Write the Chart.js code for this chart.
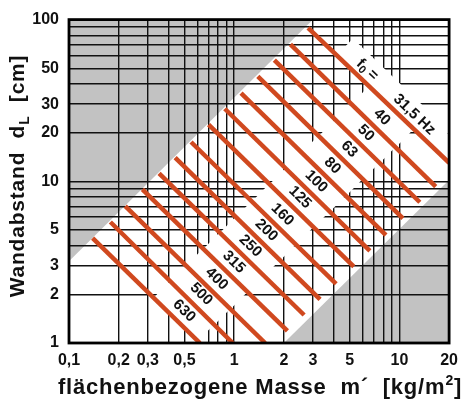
<!DOCTYPE html>
<html>
<head>
<meta charset="utf-8">
<script src="https://cdn.jsdelivr.net/npm/chart.js@4.4.1/dist/chart.umd.min.js"></script>
<style>
  html, body { margin: 0; padding: 0; background: #fff; }
  canvas { display: block; }
</style>
</head>
<body>
<canvas id="chart" width="466" height="400"></canvas>
<script>
// resonance lines f0 (m' in kg/m2, d in cm)
const freqLabels = ["630", "500", "400", "315", "250", "200", "160", "125", "100", "80", "63", "50", "40", "31,5 Hz"];
const lineStartM = [0.139, 0.178, 0.219, 0.278, 0.351, 0.439, 0.548, 0.70, 0.877, 1.10, 1.39, 1.75, 2.19, 2.80];
const lineStartD = [4.45, 5.6, 7.02, 8.91, 11.2, 14.0, 17.5, 22.4, 28.1, 35.1, 44.5, 56.1, 70.2, 89.0];
const lineEndM = [0.62, 0.98, 1.54, 2.10, 2.65, 3.31, 4.14, 5.30, 6.63, 8.29, 10.5, 13.3, 16.6, 20];
const lineEndD = [1, 1, 1, 1.19, 1.49, 1.86, 2.32, 2.97, 3.71, 4.64, 5.9, 7.42, 9.28, 13.0];

// grey zones (edges of the valid band)
const upperEdgeM = [0.1, 3.0];
const upperEdgeD = [3.2, 100];
const lowerEdgeM = [2.0, 20];
const lowerEdgeD = [1, 10.2];

const xTickLabels = [0.1, 0.2, 0.3, 0.5, 1, 2, 3, 5, 10, 20];
const yTickLabels = [1, 2, 3, 5, 10, 20, 30, 50, 100];

const xGrid = [];
[0.1, 1].forEach(dec => { for (let k = 1; k <= 9; k++) xGrid.push(+(k * dec).toFixed(2)); });
xGrid.push(10, 20);
const yGrid = [];
[1, 10].forEach(dec => { for (let k = 1; k <= 9; k++) yGrid.push(k * dec); });
yGrid.push(100);

const RED = "#d0491f";
const GREY = "#c2c2c2";
const FONT = "'Liberation Sans', Arial, sans-serif";

const has = (list, v) => list.some(t => Math.abs(t - v) < 1e-6);
const comma = v => String(v).replace(".", ",");

function labelBoxes(chart) {
    const { x, y } = chart.scales;
    const boxes = [];
    freqLabels.forEach((lab, i) => {
        const p0 = { x: x.getPixelForValue(lineStartM[i]), y: y.getPixelForValue(lineStartD[i]) };
        const p1 = { x: x.getPixelForValue(lineEndM[i]), y: y.getPixelForValue(lineEndD[i]) };
        const ang = Math.atan2(p1.y - p0.y, p1.x - p0.x);
        const P = lineStartM[i] * lineStartD[i];
        const m = Math.sqrt(P / 3.162);
        const pa = { x: x.getPixelForValue(m), y: y.getPixelForValue(P / m) };
        const u = { x: Math.cos(ang), y: Math.sin(ang) };
        const n = { x: Math.sin(ang), y: -Math.cos(ang) };
        const at = (along, w) => ({
            x: pa.x + n.x * 12 + u.x * along,
            y: pa.y + n.y * 12 + u.y * along,
            ang, w
        });
        if (i === freqLabels.length - 1) {
            boxes.push(Object.assign(at(21, 74), { text: lab }));
            boxes.push(Object.assign(at(-44, 64), { text: "f0" }));
        } else {
            boxes.push(Object.assign(at(0, 62), { text: lab }));
        }
    });
    return boxes;
}

function poly(chart, pts) {
    const { ctx, scales: { x, y } } = chart;
    ctx.beginPath();
    pts.forEach((p, i) => {
        const px = x.getPixelForValue(p[0]), py = y.getPixelForValue(p[1]);
        if (i === 0) ctx.moveTo(px, py); else ctx.lineTo(px, py);
    });
    ctx.closePath();
    ctx.fill();
}

const diagramPlugin = {
    id: "diagram",
    beforeDraw(chart) {
        const ctx = chart.ctx;
        ctx.save();
        ctx.fillStyle = GREY;
        poly(chart, [[upperEdgeM[0], upperEdgeD[0]], [upperEdgeM[1], upperEdgeD[1]], [0.1, 100]]);
        poly(chart, [[lowerEdgeM[0], lowerEdgeD[0]], [lowerEdgeM[1], lowerEdgeD[1]], [20, 1]]);
        ctx.restore();
    },
    beforeDatasetsDraw(chart) {
        const ctx = chart.ctx;
        const a = chart.chartArea;
        ctx.save();
        ctx.beginPath();
        ctx.rect(a.left, a.top, a.right - a.left, a.bottom - a.top);
        ctx.clip();
        ctx.fillStyle = "#fff";
        labelBoxes(chart).forEach(b => {
            ctx.save();
            ctx.translate(b.x, b.y);
            ctx.rotate(b.ang);
            ctx.fillRect(-b.w / 2, -12.5, b.w, 25);
            ctx.restore();
        });
        ctx.restore();
    },
    afterDatasetsDraw(chart) {
        const ctx = chart.ctx;
        const a = chart.chartArea;
        ctx.save();
        ctx.fillStyle = "#111";
        ctx.textBaseline = "middle";
        labelBoxes(chart).forEach(b => {
            ctx.save();
            ctx.translate(b.x, b.y);
            ctx.rotate(b.ang);
            if (b.text === "f0") {
                ctx.font = "bold 15px " + FONT;
                const wf = ctx.measureText("f").width;
                const we = ctx.measureText(" =").width;
                ctx.font = "bold 11px " + FONT;
                const w0 = ctx.measureText("0").width;
                let sx = -(wf + w0 + we) / 2;
                ctx.textAlign = "left";
                ctx.font = "bold 15px " + FONT;
                ctx.fillText("f", sx, 0);
                ctx.font = "bold 11px " + FONT;
                ctx.fillText("0", sx + wf, 4);
                ctx.font = "bold 15px " + FONT;
                ctx.fillText(" =", sx + wf + w0, 0);
            } else {
                ctx.textAlign = "center";
                ctx.font = "bold 15px " + FONT;
                ctx.fillText(b.text, 0, 0);
            }
            ctx.restore();
        });
        // frame
        ctx.strokeStyle = "#000";
        ctx.lineWidth = 2.8;
        ctx.strokeRect(a.left, a.top, a.right - a.left, a.bottom - a.top);
        ctx.restore();
    },
    afterDraw(chart) {
        const ctx = chart.ctx;
        ctx.save();
        ctx.fillStyle = "#111";
        ctx.textBaseline = "alphabetic";
        ctx.textAlign = "left";
        ctx.letterSpacing = "0.8px";

        // x title with superscript
        const big = "bold 22px " + FONT, sup = "bold 14px " + FONT;
        ctx.font = big;
        const t1 = "flächenbezogene Masse  m´  [kg/m";
        const w1 = ctx.measureText(t1).width;
        const w3 = ctx.measureText("]").width;
        ctx.font = sup;
        const w2 = ctx.measureText("2").width;
        let sx = 260 - (w1 + w2 + w3) / 2;
        ctx.font = big;
        ctx.fillText(t1, sx, 394);
        ctx.font = sup;
        ctx.fillText("2", sx + w1, 385);
        ctx.font = big;
        ctx.fillText("]", sx + w1 + w2, 394);

        // y title with subscript
        ctx.translate(24, 176);
        ctx.rotate(-Math.PI / 2);
        const yb = "bold 21px " + FONT, ys = "bold 14px " + FONT;
        ctx.font = yb;
        const a1 = "Wandabstand  d", a3 = "  [cm]";
        const v1 = ctx.measureText(a1).width, v3 = ctx.measureText(a3).width;
        ctx.font = ys;
        const v2 = ctx.measureText("L").width;
        let sy = -(v1 + v2 + v3) / 2;
        ctx.font = yb;
        ctx.fillText(a1, sy, 0);
        ctx.font = ys;
        ctx.fillText("L", sy + v1, 5);
        ctx.font = yb;
        ctx.fillText(a3, sy + v1 + v2, 0);
        ctx.restore();
    }
};

const datasets = freqLabels.map((f, i) => ({
    label: f,
    data: [
        { x: lineStartM[i], y: lineStartD[i] },
        { x: lineEndM[i], y: lineEndD[i] }
    ],
    borderColor: RED,
    borderWidth: 4.5,
    borderCapStyle: "butt",
    pointRadius: 0,
    fill: false
}));

new Chart(document.getElementById("chart"), {
    type: "line",
    data: { datasets },
    options: {
        responsive: false,
        animation: false,
        layout: { padding: { top: 9, right: 16, left: 0, bottom: 0 } },
        plugins: {
            legend: { display: false },
            tooltip: { enabled: false }
        },
        scales: {
            x: {
                type: "logarithmic",
                min: 0.1,
                max: 20,
                afterBuildTicks: s => { s.ticks = xGrid.map(v => ({ value: v })); },
                afterFit: s => { s.height = 57; },
                ticks: {
                    autoSkip: false,
                    maxRotation: 0,
                    padding: 8,
                    color: "#111",
                    font: { family: FONT, size: 16, weight: "bold" },
                    callback: v => has(xTickLabels, v) ? comma(v) : ""
                },
                grid: { color: "#111", lineWidth: 1.4, drawTicks: false },
                border: { display: false }
            },
            y: {
                type: "logarithmic",
                min: 1,
                max: 100,
                afterBuildTicks: s => { s.ticks = yGrid.map(v => ({ value: v })); },
                afterFit: s => { s.width = 69; },
                ticks: {
                    autoSkip: false,
                    padding: 10,
                    color: "#111",
                    font: { family: FONT, size: 16, weight: "bold" },
                    callback: v => has(yTickLabels, v) ? comma(v) : ""
                },
                grid: { color: "#111", lineWidth: 1.4, drawTicks: false },
                border: { display: false }
            }
        }
    },
    plugins: [diagramPlugin]
});
</script>
</body>
</html>
